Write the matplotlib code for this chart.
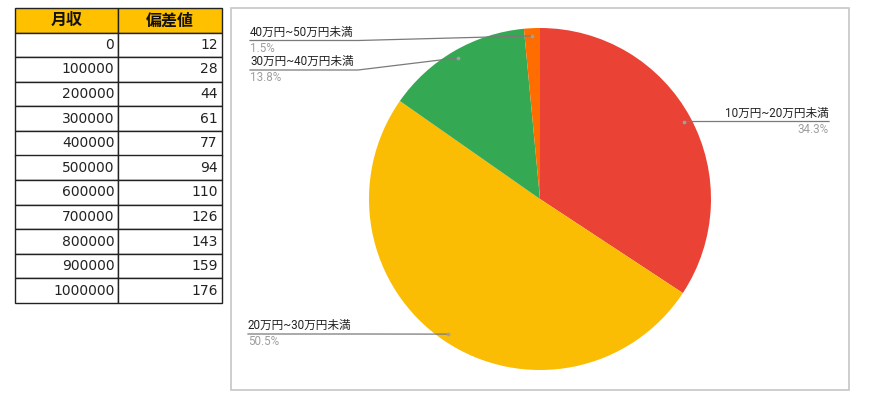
import matplotlib

matplotlib.use("Agg")
import matplotlib.pyplot as plt  # noqa: E402
import numpy as np  # noqa: E402
from matplotlib.font_manager import FontProperties  # noqa: E402
from matplotlib.patches import Rectangle  # noqa: E402

# Table data
table_headers = ["月収", "偏差値"]
incomes = [0, 100000, 200000, 300000, 400000, 500000,
           600000, 700000, 800000, 900000, 1000000]
scores = [12, 28, 44, 61, 77, 94, 110, 126, 143, 159, 176]

# Pie data
slice_labels = ["10万円~20万円未満", "20万円~30万円未満",
                "30万円~40万円未満", "40万円~50万円未満"]
slice_shares = [34.3, 50.5, 13.8, 1.5]
slice_colors = ["#EA4335", "#FBBC04", "#34A853", "#FF6D01"]

# Layout (pixel coords, y downwards)
W, H = 870, 411
PIE_CENTER = (540, 199)
PIE_RADIUS = 171
DOT_R = 0.955
# (underline y, underline x start, underline x end, side)
LABEL_LAYOUT = [
    (121.5, 722, 829, "right"),
    (334.0, 248, 356, "left"),
    (70.0, 250, 358, "left"),
    (40.5, 250, 358, "left"),
]
LABEL_FONT = ["Roboto", "Noto Sans CJK JP"]

fig = plt.figure(figsize=(W / 100, H / 100), dpi=100)
fig.patch.set_facecolor("white")

# ---- pie chart panel ----
ax = fig.add_axes([0, 0, 1, 1])
wedges, _ = ax.pie(
    slice_shares,
    colors=slice_colors,
    startangle=-90,
    counterclock=True,
    center=PIE_CENTER,
    radius=PIE_RADIUS,
    wedgeprops=dict(linewidth=0),
)
ax.set_xlim(0, W)
ax.set_ylim(H, 0)
ax.set_aspect("equal")
ax.axis("off")

ax.add_patch(Rectangle((231, 8), 618, 382, fill=False,
                       edgecolor="#c6c6c6", linewidth=1.2, zorder=0))

for wedge, label, share, (ly, x0, x1, side) in zip(
    wedges, slice_labels, slice_shares, LABEL_LAYOUT
):
    theta = np.deg2rad((wedge.theta1 + wedge.theta2) / 2)
    dx = PIE_CENTER[0] + DOT_R * PIE_RADIUS * np.cos(theta)
    dy = PIE_CENTER[1] + DOT_R * PIE_RADIUS * np.sin(theta)
    if side == "left":
        xs, ys = [x0, x1, dx], [ly, ly, dy]
        tx, ha = x0, "left"
    else:
        xs, ys = [dx, x0, x1], [dy, ly, ly]
        tx, ha = x1, "right"
    ax.plot(xs, ys, color="#7a7a7a", linewidth=0.9, zorder=3)
    ax.scatter([dx], [dy], s=7, color="#a0a0a0", zorder=4, linewidths=0)
    ax.text(tx, ly - 2.0, label, ha=ha, va="bottom", fontsize=8.4,
            family=LABEL_FONT, color="#222222")
    ax.text(tx, ly + 1.0, f"{share}%", ha=ha, va="top", fontsize=8.4,
            family="Roboto", color="#9e9e9e")

# ---- table ----
ax_t = fig.add_axes([15 / W, 1 - 303 / H, 207 / W, 295 / H])
ax_t.axis("off")
cell_text = [[str(i), str(s)] for i, s in zip(incomes, scores)]
tbl = ax_t.table(cellText=cell_text, colLabels=table_headers,
                 bbox=[0, 0, 1, 1], cellLoc="right", colLoc="center")
tbl.auto_set_font_size(False)
header_font = FontProperties(family="Noto Sans CJK JP", weight="bold", size=11.5)
for (r, c), cell in tbl.get_celld().items():
    cell.set_edgecolor("#222222")
    cell.set_linewidth(1.0)
    cell.PAD = 0.04
    txt = cell.get_text()
    if r == 0:
        cell.set_facecolor("#FFC000")
        txt.set_fontproperties(header_font)
        txt.set_color("#111111")
    else:
        txt.set_fontfamily("DejaVu Sans")
        txt.set_fontsize(10)
        txt.set_color("#222222")

fig.savefig("out.png", dpi=100, facecolor="white")
plt.close(fig)
